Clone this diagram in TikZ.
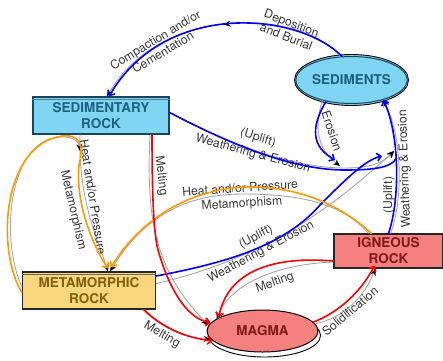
\documentclass[tikz,border=0pt]{standalone}
\usepackage{fontspec}
\setmainfont{TeX Gyre Heros}
\usetikzlibrary{arrows.meta,shapes.geometric,decorations.markings}
\definecolor{sedfill}{RGB}{128,212,244}
\definecolor{sedtext}{RGB}{28,98,128}
\definecolor{sedborder}{RGB}{22,70,92}
\definecolor{metfill}{RGB}{250,215,125}
\definecolor{mettext}{RGB}{128,96,16}
\definecolor{igfill}{RGB}{244,128,128}
\definecolor{igtext}{RGB}{128,24,24}
\definecolor{lblcol}{RGB}{55,55,55}
\definecolor{ovblue}{RGB}{0,0,255}
\definecolor{ovred}{RGB}{255,0,0}
\definecolor{ovorange}{RGB}{255,153,0}
\begin{document}
\begin{tikzpicture}[x=1pt,y=-1pt,
  rockbox/.style={draw, line width=1.3pt, inner sep=0pt, align=center,
    font=\fontsize{13.5}{16}\selectfont\bfseries},
  ellip/.style={ellipse, draw, line width=1pt, inner sep=0pt, align=center,
    font=\fontsize{13.5}{16}\selectfont\bfseries},
  conn/.style={draw=gray!70, line width=0.9pt,
    -{Stealth[length=7pt,width=6pt,color=black]}},
  midarrow/.style={postaction={decorate}, decoration={markings,
    mark=at position 0.47 with {\arrow{Stealth[length=7pt,width=6pt,color=black]}}}},
  ovl/.style={line width=1.6pt, line cap=round, line join=round,
    -{Straight Barb[length=4pt,width=8pt]}},
  ovln/.style={line width=1.6pt, line cap=round, line join=round},
  lbl/.style={font=\fontsize{12.2}{14.5}\selectfont, text=lblcol, inner sep=0pt, align=center}]
\useasboundingbox (0,0) rectangle (443,360);

% ---- nodes ----
\node[ellipse, draw=black, fill=white, line width=0.9pt, minimum width=112pt, minimum height=43pt, inner sep=0pt] (magmashadow) at (264.5,335.5) {};
\node[ellipse, draw=black, fill=sedfill, line width=0.9pt, minimum width=114pt, minimum height=51pt, inner sep=0pt] (sedouter) at (351.5,80) {};
\node[ellip, fill=sedfill, draw=sedborder, text=sedtext, minimum width=110pt, minimum height=47pt] (sediments) at (351.5,80) {SEDIMENTS};
\node[rockbox, fill=sedfill, draw=sedborder, text=sedtext, minimum width=136pt, minimum height=37pt] (sedrock) at (101,115.5) {SEDIMENTARY\\ROCK};
\node[rockbox, fill=metfill, draw=black!85, text=mettext, minimum width=133pt, minimum height=37pt] (metrock) at (89,290.5) {METAMORPHIC\\ROCK};
\node[rockbox, fill=igfill, draw=black!85, text=igtext, minimum width=109pt, minimum height=34pt] (igrock) at (388.5,251) {IGNEOUS\\ROCK};
\node[ellip, fill=igfill, draw=black, text=igtext, minimum width=111pt, minimum height=42pt] (magma) at (262.5,331) {MAGMA};
\draw[sedborder!70, line width=0.6pt] ([yshift=-3pt]sedrock.north west) -- ([yshift=-3pt]sedrock.north east);
\draw[black!60, line width=0.6pt] ([yshift=-3pt]metrock.north west) -- ([yshift=-3pt]metrock.north east);

\coordinate (conv) at (394,151);
\coordinate (erosionend) at (340,166);
\coordinate (loopend) at (80,151);

% ---- gray connectors ----
\draw[conn, midarrow] (sediments.115) .. controls (300,8) and (160,5) .. ([xshift=6pt]sedrock.north);
\draw[conn] (sediments.215) .. controls (312,135) and (322,152) .. (erosionend);
\draw[conn] ([yshift=3pt]sedrock.east) .. controls (240,150) and (300,168) .. (345,168) .. controls (375,168) and (386,160) .. (conv);
\draw[conn] ([yshift=7pt]metrock.east) .. controls (260,260) and (330,210) .. (conv);
\draw[conn] ([xshift=2pt]igrock.north) .. controls (402,205) and (404,140) .. (sediments.-32);
\draw[conn] ([xshift=-21pt]sedrock.south) .. controls (78,200) and (98,240) .. ([xshift=19pt]metrock.north);
\draw[conn] ([yshift=4pt]metrock.west) .. controls (0,240) and (8,140) .. (60,137) .. controls (72,136) and (79,141) .. (loopend);
\draw[conn] ([xshift=-20pt]igrock.north) .. controls (340,200) and (290,194) .. (243,194) .. controls (200,194) and (150,206) .. ([xshift=21pt]metrock.north);
\draw[conn] ([xshift=49pt]sedrock.south) .. controls (146,220) and (155,270) .. (magma.174);
\draw[conn] ([xshift=-14pt]metrock.south east) .. controls (165,330) and (185,338) .. (magma.189);
\draw[conn] ([yshift=-11pt]igrock.west) .. controls (280,264) and (232,282) .. (magma.165);
\draw[conn] (magma.8) .. controls (345,318) and (365,295) .. ([xshift=-13pt]igrock.south);

% ---- labels ----
\node[lbl, rotate=-21] (lDep) at (289,30) {Deposition\\and Burial};
\node[lbl, rotate=31] (lComp) at (159,46) {Compaction and/or\\Cementation};
\node[lbl, rotate=-72] (lEro) at (332,131) {Erosion};
\node[lbl, rotate=-17] (lUp1) at (258,138) {(Uplift)};
\node[lbl, rotate=-15] (lWe1) at (253,154) {Weathering \& Erosion};
\node[lbl, rotate=27] (lUp2) at (256,237) {(Uplift)};
\node[lbl, rotate=28] (lWe2) at (261,252) {Weathering \& Erosion};
\node[lbl, rotate=90] (lUp3) at (389,195) {(Uplift)};
\node[lbl, rotate=92] (lWe3) at (405,169) {Weathering \& Erosion};
\node[lbl, rotate=-81] (lHeat1) at (93,197) {Heat and/or Pressure};
\node[lbl, rotate=-77] (lMeta1) at (73,210) {Metamorphism};
\node[lbl, rotate=4] (lHeat2) at (240,188) {Heat and/or Pressure};
\node[lbl, rotate=4] (lMeta2) at (242,204) {Metamorphism};
\node[lbl, rotate=-83] (lMelt1) at (161,176) {Melting};
\node[lbl, rotate=-30] (lMelt2) at (162,335) {Melting};
\node[lbl, rotate=20] (lMelt3) at (275,283) {Melting};
\node[lbl, rotate=40] (lSol) at (350,311) {Solidification};

% ---- coloured overlays ----
\draw[ovl, ovblue] (sediments.112) .. controls (298,12) and (165,0) .. ([xshift=8pt]sedrock.north);
\draw[ovl, ovblue] (sediments.220) .. controls (306,135) and (318,150) .. ([xshift=-5pt,yshift=6pt]erosionend);
\draw[ovln, ovblue] ([yshift=3pt]sedrock.east) .. controls (245,152) and (300,170) .. (345,170) .. controls (372,170) and (390,168) .. ([xshift=2pt,yshift=-8pt]conv);
\draw[ovl, ovblue] ([yshift=14.5pt]metrock.east) .. controls (230,262) and (285,245) .. (320,205) .. controls (345,180) and (365,160) .. ([xshift=-12pt,yshift=-5pt]conv);
\draw[ovl, ovblue] (igrock.north) .. controls (400,200) and (400,135) .. (sediments.-32);
\draw[ovl, ovorange] ([yshift=-2pt]metrock.west) .. controls (-4,250) and (2,145) .. (62,136) .. controls (80,134) and (84,145) .. (79,165) .. controls (75,200) and (92,245) .. ([xshift=19pt,yshift=3pt]metrock.north);
\draw[ovl, ovorange] ([xshift=-17pt]igrock.north) .. controls (340,205) and (300,187) .. (250,187) .. controls (200,187) and (145,212) .. ([xshift=22pt,yshift=4pt]metrock.north);
\draw[ovl, ovred] ([xshift=51pt]sedrock.south) .. controls (152,200) and (154,235) .. (158,250) .. controls (168,285) and (185,318) .. (magma.171);
\draw[ovl, ovred] ([xshift=-12pt]metrock.south east) .. controls (160,326) and (185,338) .. (magma.191);
\draw[ovl, ovred] ([yshift=-10pt]igrock.west) .. controls (275,256) and (228,270) .. (magma.163);
\draw[ovl, ovred] (magma.10) .. controls (340,312) and (362,290) .. ([xshift=-14pt,yshift=3pt]igrock.south);
\end{tikzpicture}
\end{document}
